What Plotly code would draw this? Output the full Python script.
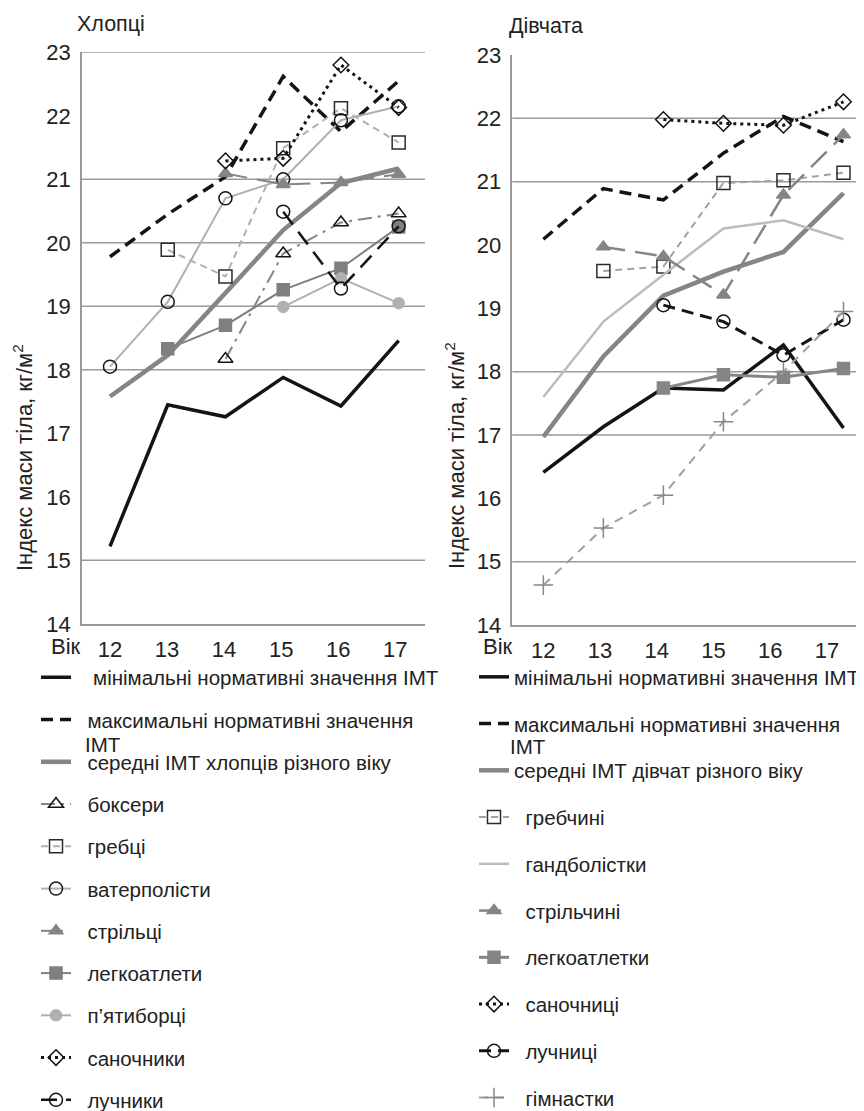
import plotly.graph_objects as go

# ---------------- data ----------------
ages = [12, 13, 14, 15, 16, 17]
age_labels = ["12", "13", "14", "15", "16", "17"]
y_ticks = [14, 15, 16, 17, 18, 19, 20, 21, 22, 23]

# Boys (Хлопці)
boys_min = [15.22, 17.45, 17.26, 17.88, 17.43, 18.46]
boys_max = [19.78, 20.45, 21.04, 22.62, 21.75, 22.55]
boys_mean = [17.58, 18.23, 19.21, 20.20, 20.94, 21.17]
boxers = [None, None, 18.17, 19.83, 20.32, 20.46]
rowers = [None, 19.89, 19.47, 21.49, 22.12, 21.58]
waterpolo = [18.05, 19.07, 20.70, 21.00, 21.93, 22.15]
shooters = [None, None, 21.09, 20.92, 20.95, 21.08]
athletes = [None, 18.33, 18.70, 19.26, 19.60, 20.25]
pentathlon = [None, None, None, 18.99, 19.44, 19.05]
lugers = [None, None, 21.29, 21.33, 22.80, 22.13]
archers = [None, None, None, 20.49, 19.28, 20.26]

# Girls (Дівчата)
girls_min = [16.41, 17.13, 17.74, 17.71, 18.42, 17.11]
girls_max = [20.09, 20.89, 20.71, 21.45, 22.03, 21.63]
girls_mean = [16.97, 18.24, 19.20, 19.58, 19.89, 20.82]
rowers_g = [None, 19.59, 19.66, 20.98, 21.02, 21.14]
handball = [17.60, 18.79, 19.53, 20.26, 20.39, 20.09]
shooters_g = [None, 19.97, 19.82, 19.21, 20.79, 21.74]
athletes_g = [None, None, 17.74, 17.95, 17.91, 18.05]
lugers_g = [None, None, 21.98, 21.92, 21.89, 22.26]
archers_g = [None, None, 19.05, 18.79, 18.26, 18.82]
gymnasts = [14.63, 15.53, 16.05, 17.21, 18.00, 18.95]

# gridlines that survive in the printed figure
grid_left = [15, 18, 19, 20, 21, 23]
grid_right = [15, 17, 18, 21, 22]

# tick labels sit slightly compressed relative to the data points, as in the source
left_tick_scale = 0.988
right_tick_scale = 0.945

# ---------------- styling ----------------
FONT = "Liberation Sans, Arial, sans-serif"
BLACK = "#141414"
MID = "#858585"
LIGHT = "#b0b0b0"
AXIS = "#9a9a9a"
TXT = "#222222"
PAGE_OFFSET = 8          # default body margin of the html page
W, H = 864 - PAGE_OFFSET, 1111 - PAGE_OFFSET

def px_x(p):
    return (p - PAGE_OFFSET) / W

def px_y(p):
    return 1 - (p - PAGE_OFFSET) / H

NB = "\u00a0"

fig = go.Figure()

def add(x, y, name, xa, ya, legend, color, width, dash="solid", symbol=None,
        msize=11, mcolor=None, pad=2):
    mode = "lines+markers" if symbol else "lines"
    marker = None
    if symbol:
        mc = mcolor if mcolor else color
        marker = dict(symbol=symbol, size=msize, color=mc,
                      line=dict(color=mc, width=1.5))
    fig.add_trace(go.Scatter(
        x=x, y=y, name=NB * pad + name, mode=mode, xaxis=xa, yaxis=ya,
        legend=legend, legendgroup=legend + name,
        line=dict(color=color, width=width, dash=dash),
        marker=marker, connectgaps=False,
        hoverinfo="skip"))

# left panel
L = "legend"
add(ages, boys_min, "мінімальні нормативні значення ІМТ", "x", "y", L, BLACK, 3.5, pad=3)
add(ages, boys_max, "максимальні нормативні значення", "x", "y", L, BLACK, 3.5, dash="12px,7px")
add(ages, boys_mean, "середні ІМТ хлопців різного віку", "x", "y", L, MID, 4.5)
add(ages, boxers, "боксери", "x", "y", L, MID, 2, dash="14px,6px,3px,6px",
    symbol="triangle-up-open", msize=13, mcolor=BLACK)
add(ages, rowers, "гребці", "x", "y", L, LIGHT, 2, dash="7px,5px",
    symbol="square-open", msize=13, mcolor="#2a2a2a")
add(ages, waterpolo, "ватерполісти", "x", "y", L, LIGHT, 2,
    symbol="circle-open", msize=13, mcolor=BLACK)
add(ages, shooters, "стрільці", "x", "y", L, MID, 2, dash="22px,10px",
    symbol="triangle-up", msize=12)
add(ages, athletes, "легкоатлети", "x", "y", L, "#7f7f7f", 2,
    symbol="square", msize=12)
add(ages, pentathlon, "п’ятиборці", "x", "y", L, LIGHT, 2,
    symbol="circle", msize=11)
add(ages, lugers, "саночники", "x", "y", L, BLACK, 3, dash="3px,4px",
    symbol="diamond-open", msize=12, mcolor=BLACK)
add(ages, archers, "лучники", "x", "y", L, BLACK, 2.5, dash="16px,9px",
    symbol="circle-open", msize=13, mcolor=BLACK)

# right panel
R = "legend2"
add(ages, girls_min, "мінімальні нормативні значення ІМТ", "x2", "y2", R, BLACK, 3.5, pad=0)
add(ages, girls_max, "максимальні нормативні значення", "x2", "y2", R, BLACK, 3.5,
    dash="12px,7px", pad=0)
add(ages, girls_mean, "середні ІМТ дівчат різного віку", "x2", "y2", R, MID, 4.5, pad=0)
add(ages, rowers_g, "гребчині", "x2", "y2", R, "#a0a0a0", 2, dash="7px,5px",
    symbol="square-open", msize=13, mcolor="#2a2a2a")
add(ages, handball, "гандболістки", "x2", "y2", R, "#bcbcbc", 2.5)
add(ages, shooters_g, "стрільчині", "x2", "y2", R, MID, 2.5, dash="22px,10px",
    symbol="triangle-up", msize=12)
add(ages, athletes_g, "легкоатлетки", "x2", "y2", R, MID, 3,
    symbol="square", msize=12)
add(ages, lugers_g, "саночниці", "x2", "y2", R, BLACK, 3, dash="3px,4px",
    symbol="diamond-open", msize=12, mcolor=BLACK)
add(ages, archers_g, "лучниці", "x2", "y2", R, BLACK, 3, dash="12px,7px",
    symbol="circle-open", msize=13, mcolor=BLACK)
add(ages, gymnasts, "гімнастки", "x2", "y2", R, "#a0a0a0", 2, dash="9px,7px",
    symbol="cross-thin", msize=14, mcolor="#888888")

# ---------------- axes ----------------
tickfont = dict(family=FONT, size=22, color=TXT)
common_y = dict(range=[14, 23], tickvals=y_ticks, showgrid=False, zeroline=False,
                showline=True, linecolor=AXIS, linewidth=1.5, ticks="",
                tickfont=tickfont, ticklabelstandoff=5, fixedrange=True,
                automargin=False)
common_x = dict(showgrid=False, zeroline=False, showline=True, linecolor=AXIS,
                linewidth=1.5, ticks="", tickfont=tickfont, ticklabelstandoff=5,
                fixedrange=True, automargin=False)

left_tickvals = [ages[0] + (a - ages[0]) * left_tick_scale for a in ages]
right_tickvals = [ages[0] + (a - ages[0]) * right_tick_scale for a in ages]

LEG_FONT = dict(family=FONT, size=20.5, color=TXT)

fig.update_layout(
    width=W, height=H,
    margin=dict(l=0, r=0, t=0, b=0, autoexpand=False),
    paper_bgcolor="white", plot_bgcolor="white",
    font=dict(family=FONT, color=TXT),
    xaxis=dict(domain=[px_x(82), px_x(425)], range=[11.515, 17.456],
               tickvals=left_tickvals, ticktext=age_labels, anchor="y", **common_x),
    yaxis=dict(domain=[px_y(623.8), px_y(52.3)], anchor="x", **common_y),
    xaxis2=dict(domain=[px_x(512.3), px_x(856.7)], range=[11.483, 17.22],
                tickvals=right_tickvals, ticktext=age_labels, anchor="y2", **common_x),
    yaxis2=dict(domain=[px_y(625), px_y(54.96)], anchor="x2", **common_y),
    legend=dict(x=px_x(36), y=px_y(657.5), xanchor="left", yanchor="top",
                font=LEG_FONT, tracegroupgap=12.6,
                bgcolor="rgba(0,0,0,0)", itemclick=False),
    legend2=dict(x=px_x(474), y=px_y(657), xanchor="left", yanchor="top",
                 font=LEG_FONT, tracegroupgap=17.1,
                 bgcolor="rgba(0,0,0,0)", itemclick=False),
    showlegend=True,
)

shapes = []
for v in grid_left:
    shapes.append(dict(type="line", xref="x domain", yref="y", x0=0, x1=1, y0=v, y1=v,
                       line=dict(color=AXIS, width=1.5), layer="below"))
for v in grid_right:
    shapes.append(dict(type="line", xref="x2 domain", yref="y2", x0=0, x1=1, y0=v, y1=v,
                       line=dict(color=AXIS, width=1.5), layer="below"))
fig.update_layout(shapes=shapes)

ann_font = dict(family=FONT, size=21.5, color=TXT)
annotations = [
    dict(text="Хлопці", x=px_x(75), y=px_y(24), xref="paper", yref="paper",
         xanchor="left", yanchor="middle", showarrow=False, font=ann_font),
    dict(text="Дівчата", x=px_x(507), y=px_y(26), xref="paper", yref="paper",
         xanchor="left", yanchor="middle", showarrow=False, font=ann_font),
    dict(text="Індекс маси тіла, кг/м<sup>2</sup>", x=px_x(23), y=px_y(458),
         xref="paper", yref="paper", textangle=-90, xanchor="center", yanchor="middle",
         showarrow=False, font=dict(family=FONT, size=22, color=TXT)),
    dict(text="Індекс маси тіла, кг/м<sup>2</sup>", x=px_x(455), y=px_y(456),
         xref="paper", yref="paper", textangle=-90, xanchor="center", yanchor="middle",
         showarrow=False, font=dict(family=FONT, size=22, color=TXT)),
    dict(text="Вік", x=px_x(66), y=px_y(647), xref="paper", yref="paper",
         xanchor="center", yanchor="middle", showarrow=False,
         font=dict(family=FONT, size=22, color=TXT)),
    dict(text="Вік", x=px_x(498), y=px_y(647), xref="paper", yref="paper",
         xanchor="center", yanchor="middle", showarrow=False,
         font=dict(family=FONT, size=22, color=TXT)),
    dict(text="ІМТ", x=px_x(83), y=px_y(744), xref="paper", yref="paper",
         xanchor="left", yanchor="middle", showarrow=False, font=LEG_FONT),
    dict(text="ІМТ", x=px_x(508), y=px_y(746), xref="paper", yref="paper",
         xanchor="left", yanchor="middle", showarrow=False, font=LEG_FONT),
]
fig.update_layout(annotations=annotations)

fig.write_html("out.html")
